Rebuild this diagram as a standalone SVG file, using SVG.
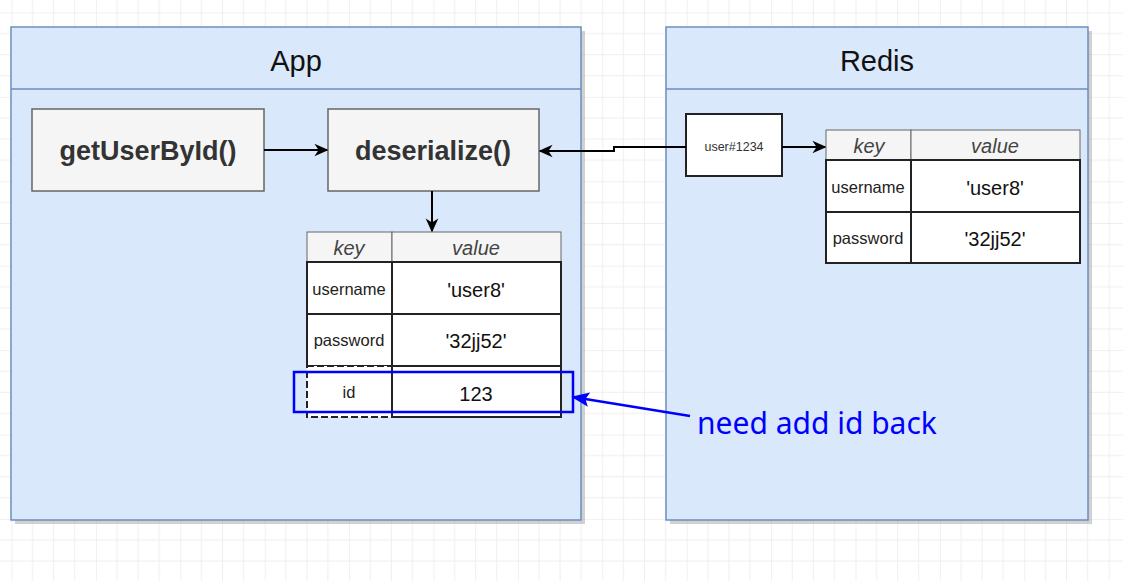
<svg xmlns="http://www.w3.org/2000/svg" width="1123" height="581" viewBox="0 0 1123 581">
<defs>
<pattern id="grid" x="11.5" y="12.5" width="84.4" height="84.4" patternUnits="userSpaceOnUse">
<path d="M21.1 0V84.4M42.2 0V84.4M63.3 0V84.4M0 21.1H84.4M0 42.2H84.4M0 63.3H84.4" stroke="#eeeeee" stroke-width="1" fill="none"/>
<path d="M0 0V84.4M0 0H84.4" stroke="#e2e2e2" stroke-width="1" fill="none"/>
</pattern>
<marker id="ah" viewBox="0 0 10 10" refX="9" refY="5" markerWidth="14" markerHeight="14" markerUnits="userSpaceOnUse" orient="auto">
<path d="M0 0.5L10 5L0 9.5L3 5Z" fill="#000"/>
</marker>
<marker id="ahb" viewBox="0 0 10 10" refX="9" refY="5" markerWidth="18" markerHeight="18" markerUnits="userSpaceOnUse" orient="auto">
<path d="M0 1L10 5L0 9L2 5Z" fill="#0000ff"/>
</marker>
</defs>
<style>
.cont{fill:#dae8fc;stroke:#6c8ebf;stroke-width:1.5}
.shadow{fill:#999;opacity:0.45}
.title{font-family:"Liberation Sans",Arial,sans-serif;font-size:29px;fill:#111;text-anchor:middle}
.fn{fill:#f5f5f5;stroke:#666;stroke-width:1.5}
.fnt{font-family:"Liberation Sans",Arial,sans-serif;font-size:27px;font-weight:bold;fill:#333;text-anchor:middle}
.hdr{fill:#f5f5f5;stroke:#666;stroke-width:1}
.cell{fill:#fff;stroke:#222;stroke-width:2}
.hdt{font-family:"Liberation Sans",Arial,sans-serif;font-size:20px;font-style:italic;fill:#444;text-anchor:middle}
.kt{font-family:"Liberation Sans",Arial,sans-serif;font-size:16.5px;fill:#222;text-anchor:middle}
.vt{font-family:"Liberation Sans",Arial,sans-serif;font-size:20px;fill:#111;text-anchor:middle}
.line{stroke:#000;stroke-width:2;fill:none}
</style>
<rect width="1123" height="581" fill="#fff"/>
<rect width="1123" height="581" fill="url(#grid)"/>

<g id="app">
<rect class="shadow" x="15" y="31" width="570" height="493"/>
<rect class="cont" x="11" y="27" width="570" height="493"/>
<line x1="11" y1="89" x2="581" y2="89" stroke="#6c8ebf" stroke-width="1.5"/>
<text class="title" x="296" y="71">App</text>
</g>

<g id="redis">
<rect class="shadow" x="670" y="31" width="422" height="493"/>
<rect class="cont" x="666" y="27" width="422" height="493"/>
<line x1="666" y1="89" x2="1088" y2="89" stroke="#6c8ebf" stroke-width="1.5"/>
<text class="title" x="877" y="71">Redis</text>
</g>

<g id="getUserById">
<rect class="fn" x="32" y="109" width="232" height="82"/>
<text class="fnt" x="148" y="160">getUserById()</text>
</g>

<g id="deserialize">
<rect class="fn" x="328" y="109" width="211" height="82"/>
<text class="fnt" x="433" y="160">deserialize()</text>
</g>

<g id="app-table">
<rect class="hdr" x="307" y="232" width="85" height="30"/>
<rect class="hdr" x="392" y="232" width="169" height="30"/>
<text class="hdt" x="349" y="255">key</text>
<text class="hdt" x="476" y="255">value</text>
<rect class="cell" x="307" y="262" width="85" height="52"/>
<rect class="cell" x="392" y="262" width="169" height="52"/>
<text class="kt" x="349" y="295">username</text>
<text class="vt" x="476" y="297">'user8'</text>
<rect class="cell" x="307" y="314" width="85" height="52"/>
<rect class="cell" x="392" y="314" width="169" height="52"/>
<text class="kt" x="349" y="346">password</text>
<text class="vt" x="476" y="348">'32jj52'</text>
<rect class="cell" x="307" y="366" width="85" height="51" stroke-dasharray="7 3"/>
<rect class="cell" x="392" y="366" width="169" height="51"/>
<text class="kt" x="349" y="398">id</text>
<text class="vt" x="476" y="401">123</text>
</g>

<g id="highlight">
<rect x="294" y="372" width="279" height="40" fill="none" stroke="#0000ff" stroke-width="2.5"/>
</g>

<g id="user1234">
<rect x="686" y="114" width="96" height="62" fill="#fff" stroke="#222" stroke-width="2"/>
<text x="734" y="151" font-family="'Liberation Sans',Arial,sans-serif" font-size="12.5" fill="#333" text-anchor="middle">user#1234</text>
</g>

<g id="redis-table">
<rect class="hdr" x="826" y="130" width="85" height="30"/>
<rect class="hdr" x="911" y="130" width="169" height="30"/>
<text class="hdt" x="869" y="153">key</text>
<text class="hdt" x="995" y="153">value</text>
<rect class="cell" x="826" y="160" width="85" height="52"/>
<rect class="cell" x="911" y="160" width="169" height="52"/>
<text class="kt" x="868" y="193">username</text>
<text class="vt" x="995" y="195">'user8'</text>
<rect class="cell" x="826" y="212" width="85" height="51"/>
<rect class="cell" x="911" y="212" width="169" height="51"/>
<text class="kt" x="868" y="244">password</text>
<text class="vt" x="995" y="246">'32jj52'</text>
</g>

<g id="note">
<text x="697" y="434" font-family="'Noto Sans','Open Sans',sans-serif" font-size="30" fill="#0000ff">need add id back</text>
</g>

<g id="connectors">
<line class="line" x1="264" y1="150" x2="327" y2="150" marker-end="url(#ah)"/>
<line class="line" x1="432" y1="191" x2="432" y2="231" marker-end="url(#ah)"/>
<polyline class="line" points="686,147 614,147 614,151 540,151" marker-end="url(#ah)"/>
<line class="line" x1="782" y1="147" x2="825" y2="147" marker-end="url(#ah)"/>
<line x1="690" y1="416" x2="573" y2="397" stroke="#0000ff" stroke-width="2.5" marker-end="url(#ahb)"/>
</g>
</svg>
